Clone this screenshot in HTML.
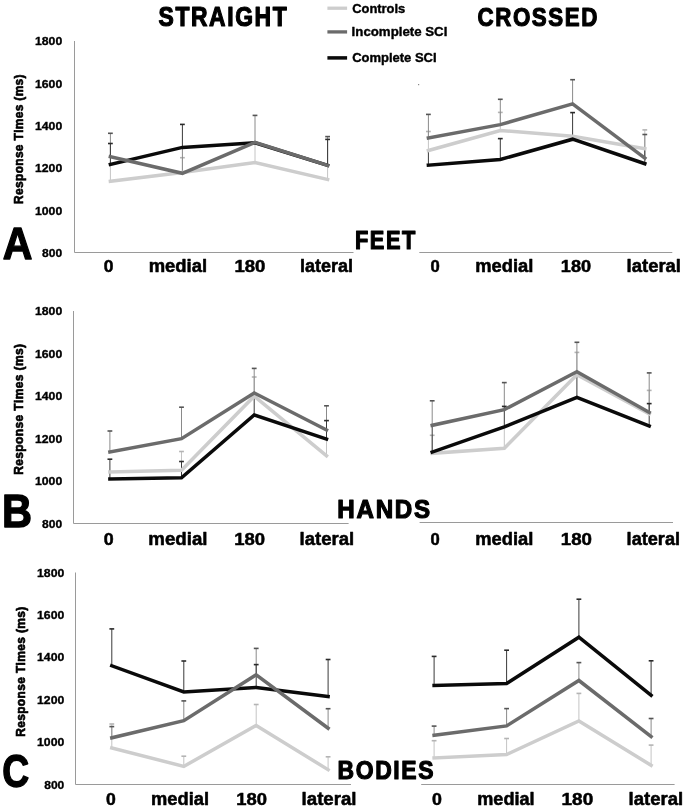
<!DOCTYPE html>
<html><head><meta charset="utf-8"><title>Response Times</title>
<style>
html,body{margin:0;padding:0;background:#fff;}
body{width:685px;height:811px;overflow:hidden;}
svg{display:block;will-change:transform;}
text{font-family:"Liberation Sans",sans-serif;font-weight:bold;font-kerning:none;}
</style></head>
<body>
<svg width="685" height="811" viewBox="0 0 685 811">
<rect width="685" height="811" fill="#fff"/>
<line x1="74.50" y1="41.00" x2="74.50" y2="252.50" stroke="#9a9a9a" stroke-width="1"/>
<line x1="74.50" y1="252.50" x2="353.50" y2="252.50" stroke="#9a9a9a" stroke-width="1"/>
<line x1="419.30" y1="252.50" x2="672.30" y2="252.50" stroke="#9a9a9a" stroke-width="1"/>
<line x1="73.50" y1="311.00" x2="73.50" y2="523.50" stroke="#9a9a9a" stroke-width="1"/>
<line x1="73.50" y1="523.50" x2="348.60" y2="523.50" stroke="#9a9a9a" stroke-width="1"/>
<line x1="419.60" y1="522.50" x2="673.00" y2="522.50" stroke="#9a9a9a" stroke-width="1"/>
<line x1="75.50" y1="572.50" x2="75.50" y2="784.50" stroke="#9a9a9a" stroke-width="1"/>
<line x1="75.50" y1="784.50" x2="351.00" y2="784.50" stroke="#9a9a9a" stroke-width="1"/>
<line x1="421.20" y1="784.50" x2="674.60" y2="784.50" stroke="#9a9a9a" stroke-width="1"/>
<rect x="418" y="84" width="1.2" height="1.2" fill="#888"/>
<line x1="110.40" y1="181.30" x2="110.40" y2="160.00" stroke="#c4c4c4" stroke-width="1.0"/>
<line x1="182.40" y1="172.50" x2="182.40" y2="157.70" stroke="#c4c4c4" stroke-width="1.0"/>
<line x1="180.00" y1="157.70" x2="184.80" y2="157.70" stroke="#b4b4b4" stroke-width="1.6"/>
<line x1="255.00" y1="162.60" x2="255.00" y2="142.00" stroke="#c4c4c4" stroke-width="1.0"/>
<line x1="327.60" y1="179.50" x2="327.60" y2="166.00" stroke="#c4c4c4" stroke-width="1.0"/>
<line x1="110.40" y1="156.70" x2="110.40" y2="133.30" stroke="#8a8a8a" stroke-width="1.0"/>
<line x1="108.00" y1="133.30" x2="112.80" y2="133.30" stroke="#555555" stroke-width="1.6"/>
<line x1="182.40" y1="173.30" x2="182.40" y2="148.00" stroke="#8a8a8a" stroke-width="1.0"/>
<line x1="255.00" y1="142.30" x2="255.00" y2="115.40" stroke="#8a8a8a" stroke-width="1.0"/>
<line x1="252.60" y1="115.40" x2="257.40" y2="115.40" stroke="#555555" stroke-width="1.6"/>
<line x1="327.60" y1="165.40" x2="327.60" y2="136.60" stroke="#8a8a8a" stroke-width="1.0"/>
<line x1="325.20" y1="136.60" x2="330.00" y2="136.60" stroke="#555555" stroke-width="1.6"/>
<line x1="110.40" y1="164.40" x2="110.40" y2="143.50" stroke="#3a3a3a" stroke-width="1.0"/>
<line x1="108.00" y1="143.50" x2="112.80" y2="143.50" stroke="#2a2a2a" stroke-width="1.6"/>
<line x1="182.40" y1="147.40" x2="182.40" y2="124.40" stroke="#3a3a3a" stroke-width="1.0"/>
<line x1="180.00" y1="124.40" x2="184.80" y2="124.40" stroke="#2a2a2a" stroke-width="1.6"/>
<line x1="327.60" y1="165.40" x2="327.60" y2="139.40" stroke="#3a3a3a" stroke-width="1.0"/>
<line x1="325.20" y1="139.40" x2="330.00" y2="139.40" stroke="#2a2a2a" stroke-width="1.6"/>
<polyline points="110.40,181.30 182.40,172.50 255.00,162.60 327.60,179.50" fill="none" stroke="#cdcdcd" stroke-width="3.5" stroke-linejoin="miter" stroke-linecap="square"/>
<polyline points="110.40,164.40 182.40,147.40 255.00,142.80 327.60,165.40" fill="none" stroke="#0a0a0a" stroke-width="3.5" stroke-linejoin="miter" stroke-linecap="square"/>
<polyline points="110.40,156.70 182.40,173.30 255.00,142.30 327.60,165.40" fill="none" stroke="#6b6b6b" stroke-width="3.5" stroke-linejoin="miter" stroke-linecap="square"/>
<line x1="428.40" y1="150.50" x2="428.40" y2="131.50" stroke="#c4c4c4" stroke-width="1.0"/>
<line x1="426.00" y1="131.50" x2="430.80" y2="131.50" stroke="#b4b4b4" stroke-width="1.6"/>
<line x1="500.30" y1="130.50" x2="500.30" y2="112.40" stroke="#c4c4c4" stroke-width="1.0"/>
<line x1="497.90" y1="112.40" x2="502.70" y2="112.40" stroke="#b4b4b4" stroke-width="1.6"/>
<line x1="644.80" y1="148.70" x2="644.80" y2="129.90" stroke="#c4c4c4" stroke-width="1.0"/>
<line x1="642.40" y1="129.90" x2="647.20" y2="129.90" stroke="#b4b4b4" stroke-width="1.6"/>
<line x1="428.40" y1="138.00" x2="428.40" y2="114.40" stroke="#8a8a8a" stroke-width="1.0"/>
<line x1="426.00" y1="114.40" x2="430.80" y2="114.40" stroke="#555555" stroke-width="1.6"/>
<line x1="500.30" y1="124.60" x2="500.30" y2="99.30" stroke="#8a8a8a" stroke-width="1.0"/>
<line x1="497.90" y1="99.30" x2="502.70" y2="99.30" stroke="#555555" stroke-width="1.6"/>
<line x1="572.60" y1="103.80" x2="572.60" y2="79.70" stroke="#8a8a8a" stroke-width="1.0"/>
<line x1="570.20" y1="79.70" x2="575.00" y2="79.70" stroke="#555555" stroke-width="1.6"/>
<line x1="644.80" y1="158.00" x2="644.80" y2="134.50" stroke="#8a8a8a" stroke-width="1.0"/>
<line x1="642.40" y1="134.50" x2="647.20" y2="134.50" stroke="#555555" stroke-width="1.6"/>
<line x1="428.40" y1="165.20" x2="428.40" y2="150.00" stroke="#3a3a3a" stroke-width="1.0"/>
<line x1="500.30" y1="159.50" x2="500.30" y2="138.60" stroke="#3a3a3a" stroke-width="1.0"/>
<line x1="497.90" y1="138.60" x2="502.70" y2="138.60" stroke="#2a2a2a" stroke-width="1.6"/>
<line x1="572.60" y1="139.20" x2="572.60" y2="112.60" stroke="#3a3a3a" stroke-width="1.0"/>
<line x1="570.20" y1="112.60" x2="575.00" y2="112.60" stroke="#2a2a2a" stroke-width="1.6"/>
<line x1="644.80" y1="163.70" x2="644.80" y2="150.00" stroke="#3a3a3a" stroke-width="1.0"/>
<polyline points="428.40,150.50 500.30,130.50 572.60,136.20 644.80,148.70" fill="none" stroke="#cdcdcd" stroke-width="3.5" stroke-linejoin="miter" stroke-linecap="square"/>
<polyline points="428.40,165.20 500.30,159.50 572.60,139.20 644.80,163.70" fill="none" stroke="#0a0a0a" stroke-width="3.5" stroke-linejoin="miter" stroke-linecap="square"/>
<polyline points="428.40,138.00 500.30,124.60 572.60,103.80 644.80,158.00" fill="none" stroke="#6b6b6b" stroke-width="3.5" stroke-linejoin="miter" stroke-linecap="square"/>
<line x1="181.50" y1="470.20" x2="181.50" y2="451.50" stroke="#c4c4c4" stroke-width="1.0"/>
<line x1="179.10" y1="451.50" x2="183.90" y2="451.50" stroke="#b4b4b4" stroke-width="1.6"/>
<line x1="254.20" y1="396.20" x2="254.20" y2="377.00" stroke="#c4c4c4" stroke-width="1.0"/>
<line x1="251.80" y1="377.00" x2="256.60" y2="377.00" stroke="#b4b4b4" stroke-width="1.6"/>
<line x1="326.50" y1="455.80" x2="326.50" y2="440.00" stroke="#c4c4c4" stroke-width="1.0"/>
<line x1="109.90" y1="452.00" x2="109.90" y2="431.00" stroke="#8a8a8a" stroke-width="1.0"/>
<line x1="107.50" y1="431.00" x2="112.30" y2="431.00" stroke="#555555" stroke-width="1.6"/>
<line x1="181.50" y1="438.70" x2="181.50" y2="407.20" stroke="#8a8a8a" stroke-width="1.0"/>
<line x1="179.10" y1="407.20" x2="183.90" y2="407.20" stroke="#555555" stroke-width="1.6"/>
<line x1="254.20" y1="392.90" x2="254.20" y2="368.40" stroke="#8a8a8a" stroke-width="1.0"/>
<line x1="251.80" y1="368.40" x2="256.60" y2="368.40" stroke="#555555" stroke-width="1.6"/>
<line x1="326.50" y1="430.00" x2="326.50" y2="405.80" stroke="#8a8a8a" stroke-width="1.0"/>
<line x1="324.10" y1="405.80" x2="328.90" y2="405.80" stroke="#555555" stroke-width="1.6"/>
<line x1="109.90" y1="479.00" x2="109.90" y2="459.20" stroke="#3a3a3a" stroke-width="1.0"/>
<line x1="107.50" y1="459.20" x2="112.30" y2="459.20" stroke="#2a2a2a" stroke-width="1.6"/>
<line x1="181.50" y1="477.80" x2="181.50" y2="461.50" stroke="#3a3a3a" stroke-width="1.0"/>
<line x1="179.10" y1="461.50" x2="183.90" y2="461.50" stroke="#2a2a2a" stroke-width="1.6"/>
<line x1="254.20" y1="414.90" x2="254.20" y2="396.00" stroke="#3a3a3a" stroke-width="1.0"/>
<line x1="326.50" y1="439.10" x2="326.50" y2="420.60" stroke="#3a3a3a" stroke-width="1.0"/>
<line x1="324.10" y1="420.60" x2="328.90" y2="420.60" stroke="#2a2a2a" stroke-width="1.6"/>
<polyline points="109.90,472.00 181.50,470.20 254.20,396.20 326.50,455.80" fill="none" stroke="#cdcdcd" stroke-width="3.5" stroke-linejoin="miter" stroke-linecap="square"/>
<polyline points="109.90,479.00 181.50,477.80 254.20,414.90 326.50,439.10" fill="none" stroke="#0a0a0a" stroke-width="3.5" stroke-linejoin="miter" stroke-linecap="square"/>
<polyline points="109.90,452.00 181.50,438.70 254.20,392.90 326.50,430.00" fill="none" stroke="#6b6b6b" stroke-width="3.5" stroke-linejoin="miter" stroke-linecap="square"/>
<line x1="432.20" y1="453.30" x2="432.20" y2="435.30" stroke="#c4c4c4" stroke-width="1.0"/>
<line x1="429.80" y1="435.30" x2="434.60" y2="435.30" stroke="#b4b4b4" stroke-width="1.6"/>
<line x1="504.30" y1="448.30" x2="504.30" y2="427.00" stroke="#c4c4c4" stroke-width="1.0"/>
<line x1="576.90" y1="374.70" x2="576.90" y2="352.40" stroke="#c4c4c4" stroke-width="1.0"/>
<line x1="574.50" y1="352.40" x2="579.30" y2="352.40" stroke="#b4b4b4" stroke-width="1.6"/>
<line x1="649.20" y1="413.80" x2="649.20" y2="390.40" stroke="#c4c4c4" stroke-width="1.0"/>
<line x1="646.80" y1="390.40" x2="651.60" y2="390.40" stroke="#b4b4b4" stroke-width="1.6"/>
<line x1="432.20" y1="425.30" x2="432.20" y2="400.80" stroke="#8a8a8a" stroke-width="1.0"/>
<line x1="429.80" y1="400.80" x2="434.60" y2="400.80" stroke="#555555" stroke-width="1.6"/>
<line x1="504.30" y1="409.60" x2="504.30" y2="382.60" stroke="#8a8a8a" stroke-width="1.0"/>
<line x1="501.90" y1="382.60" x2="506.70" y2="382.60" stroke="#555555" stroke-width="1.6"/>
<line x1="576.90" y1="371.70" x2="576.90" y2="342.30" stroke="#8a8a8a" stroke-width="1.0"/>
<line x1="574.50" y1="342.30" x2="579.30" y2="342.30" stroke="#555555" stroke-width="1.6"/>
<line x1="649.20" y1="412.30" x2="649.20" y2="372.90" stroke="#8a8a8a" stroke-width="1.0"/>
<line x1="646.80" y1="372.90" x2="651.60" y2="372.90" stroke="#555555" stroke-width="1.6"/>
<line x1="432.20" y1="452.10" x2="432.20" y2="425.30" stroke="#3a3a3a" stroke-width="1.0"/>
<line x1="504.30" y1="426.90" x2="504.30" y2="406.40" stroke="#3a3a3a" stroke-width="1.0"/>
<line x1="501.90" y1="406.40" x2="506.70" y2="406.40" stroke="#2a2a2a" stroke-width="1.6"/>
<line x1="576.90" y1="397.40" x2="576.90" y2="372.00" stroke="#3a3a3a" stroke-width="1.0"/>
<line x1="649.20" y1="426.00" x2="649.20" y2="403.60" stroke="#3a3a3a" stroke-width="1.0"/>
<line x1="646.80" y1="403.60" x2="651.60" y2="403.60" stroke="#2a2a2a" stroke-width="1.6"/>
<polyline points="432.20,453.30 504.30,448.30 576.90,374.70 649.20,413.80" fill="none" stroke="#cdcdcd" stroke-width="3.5" stroke-linejoin="miter" stroke-linecap="square"/>
<polyline points="432.20,452.10 504.30,426.90 576.90,397.40 649.20,426.00" fill="none" stroke="#0a0a0a" stroke-width="3.5" stroke-linejoin="miter" stroke-linecap="square"/>
<polyline points="432.20,425.30 504.30,409.60 576.90,371.70 649.20,412.30" fill="none" stroke="#6b6b6b" stroke-width="3.5" stroke-linejoin="miter" stroke-linecap="square"/>
<line x1="111.80" y1="747.90" x2="111.80" y2="724.00" stroke="#c4c4c4" stroke-width="1.0"/>
<line x1="109.40" y1="724.00" x2="114.20" y2="724.00" stroke="#b4b4b4" stroke-width="1.6"/>
<line x1="183.80" y1="766.40" x2="183.80" y2="756.20" stroke="#c4c4c4" stroke-width="1.0"/>
<line x1="181.40" y1="756.20" x2="186.20" y2="756.20" stroke="#b4b4b4" stroke-width="1.6"/>
<line x1="256.20" y1="725.50" x2="256.20" y2="704.50" stroke="#c4c4c4" stroke-width="1.0"/>
<line x1="253.80" y1="704.50" x2="258.60" y2="704.50" stroke="#b4b4b4" stroke-width="1.6"/>
<line x1="328.10" y1="769.70" x2="328.10" y2="756.80" stroke="#c4c4c4" stroke-width="1.0"/>
<line x1="325.70" y1="756.80" x2="330.50" y2="756.80" stroke="#b4b4b4" stroke-width="1.6"/>
<line x1="111.80" y1="737.80" x2="111.80" y2="726.60" stroke="#8a8a8a" stroke-width="1.0"/>
<line x1="109.40" y1="726.60" x2="114.20" y2="726.60" stroke="#555555" stroke-width="1.6"/>
<line x1="183.80" y1="720.70" x2="183.80" y2="700.90" stroke="#8a8a8a" stroke-width="1.0"/>
<line x1="181.40" y1="700.90" x2="186.20" y2="700.90" stroke="#555555" stroke-width="1.6"/>
<line x1="256.20" y1="674.80" x2="256.20" y2="648.40" stroke="#8a8a8a" stroke-width="1.0"/>
<line x1="253.80" y1="648.40" x2="258.60" y2="648.40" stroke="#555555" stroke-width="1.6"/>
<line x1="328.10" y1="728.20" x2="328.10" y2="708.70" stroke="#8a8a8a" stroke-width="1.0"/>
<line x1="325.70" y1="708.70" x2="330.50" y2="708.70" stroke="#555555" stroke-width="1.6"/>
<line x1="111.80" y1="665.80" x2="111.80" y2="628.90" stroke="#3a3a3a" stroke-width="1.0"/>
<line x1="109.40" y1="628.90" x2="114.20" y2="628.90" stroke="#2a2a2a" stroke-width="1.6"/>
<line x1="183.80" y1="692.00" x2="183.80" y2="661.00" stroke="#3a3a3a" stroke-width="1.0"/>
<line x1="181.40" y1="661.00" x2="186.20" y2="661.00" stroke="#2a2a2a" stroke-width="1.6"/>
<line x1="256.20" y1="687.40" x2="256.20" y2="664.60" stroke="#3a3a3a" stroke-width="1.0"/>
<line x1="253.80" y1="664.60" x2="258.60" y2="664.60" stroke="#2a2a2a" stroke-width="1.6"/>
<line x1="328.10" y1="696.50" x2="328.10" y2="659.50" stroke="#3a3a3a" stroke-width="1.0"/>
<line x1="325.70" y1="659.50" x2="330.50" y2="659.50" stroke="#2a2a2a" stroke-width="1.6"/>
<polyline points="111.80,747.90 183.80,766.40 256.20,725.50 328.10,769.70" fill="none" stroke="#cdcdcd" stroke-width="3.5" stroke-linejoin="miter" stroke-linecap="square"/>
<polyline points="111.80,665.80 183.80,692.00 256.20,687.40 328.10,696.50" fill="none" stroke="#0a0a0a" stroke-width="3.5" stroke-linejoin="miter" stroke-linecap="square"/>
<polyline points="111.80,737.80 183.80,720.70 256.20,674.80 328.10,728.20" fill="none" stroke="#6b6b6b" stroke-width="3.5" stroke-linejoin="miter" stroke-linecap="square"/>
<line x1="434.10" y1="757.90" x2="434.10" y2="740.70" stroke="#c4c4c4" stroke-width="1.0"/>
<line x1="431.70" y1="740.70" x2="436.50" y2="740.70" stroke="#b4b4b4" stroke-width="1.6"/>
<line x1="506.60" y1="754.50" x2="506.60" y2="738.50" stroke="#c4c4c4" stroke-width="1.0"/>
<line x1="504.20" y1="738.50" x2="509.00" y2="738.50" stroke="#b4b4b4" stroke-width="1.6"/>
<line x1="578.90" y1="721.00" x2="578.90" y2="693.40" stroke="#c4c4c4" stroke-width="1.0"/>
<line x1="576.50" y1="693.40" x2="581.30" y2="693.40" stroke="#b4b4b4" stroke-width="1.6"/>
<line x1="651.10" y1="765.30" x2="651.10" y2="745.10" stroke="#c4c4c4" stroke-width="1.0"/>
<line x1="648.70" y1="745.10" x2="653.50" y2="745.10" stroke="#b4b4b4" stroke-width="1.6"/>
<line x1="434.10" y1="735.20" x2="434.10" y2="726.10" stroke="#8a8a8a" stroke-width="1.0"/>
<line x1="431.70" y1="726.10" x2="436.50" y2="726.10" stroke="#555555" stroke-width="1.6"/>
<line x1="506.60" y1="725.90" x2="506.60" y2="708.60" stroke="#8a8a8a" stroke-width="1.0"/>
<line x1="504.20" y1="708.60" x2="509.00" y2="708.60" stroke="#555555" stroke-width="1.6"/>
<line x1="578.90" y1="680.50" x2="578.90" y2="662.60" stroke="#8a8a8a" stroke-width="1.0"/>
<line x1="576.50" y1="662.60" x2="581.30" y2="662.60" stroke="#555555" stroke-width="1.6"/>
<line x1="651.10" y1="736.50" x2="651.10" y2="718.50" stroke="#8a8a8a" stroke-width="1.0"/>
<line x1="648.70" y1="718.50" x2="653.50" y2="718.50" stroke="#555555" stroke-width="1.6"/>
<line x1="434.10" y1="685.50" x2="434.10" y2="656.40" stroke="#3a3a3a" stroke-width="1.0"/>
<line x1="431.70" y1="656.40" x2="436.50" y2="656.40" stroke="#2a2a2a" stroke-width="1.6"/>
<line x1="506.60" y1="683.50" x2="506.60" y2="650.20" stroke="#3a3a3a" stroke-width="1.0"/>
<line x1="504.20" y1="650.20" x2="509.00" y2="650.20" stroke="#2a2a2a" stroke-width="1.6"/>
<line x1="578.90" y1="637.20" x2="578.90" y2="599.20" stroke="#3a3a3a" stroke-width="1.0"/>
<line x1="576.50" y1="599.20" x2="581.30" y2="599.20" stroke="#2a2a2a" stroke-width="1.6"/>
<line x1="651.10" y1="695.30" x2="651.10" y2="660.80" stroke="#3a3a3a" stroke-width="1.0"/>
<line x1="648.70" y1="660.80" x2="653.50" y2="660.80" stroke="#2a2a2a" stroke-width="1.6"/>
<polyline points="434.10,757.90 506.60,754.50 578.90,721.00 651.10,765.30" fill="none" stroke="#cdcdcd" stroke-width="3.5" stroke-linejoin="miter" stroke-linecap="square"/>
<polyline points="434.10,685.50 506.60,683.50 578.90,637.20 651.10,695.30" fill="none" stroke="#0a0a0a" stroke-width="3.5" stroke-linejoin="miter" stroke-linecap="square"/>
<polyline points="434.10,735.20 506.60,725.90 578.90,680.50 651.10,736.50" fill="none" stroke="#6b6b6b" stroke-width="3.5" stroke-linejoin="miter" stroke-linecap="square"/>
<text transform="translate(34.91,45.12) scale(1.0517,1)" font-size="11.67" fill="#000" stroke="#000" stroke-width="0.350" stroke-linejoin="round">1800</text>
<text transform="translate(34.91,87.52) scale(1.0517,1)" font-size="11.67" fill="#000" stroke="#000" stroke-width="0.350" stroke-linejoin="round">1600</text>
<text transform="translate(34.91,129.92) scale(1.0517,1)" font-size="11.67" fill="#000" stroke="#000" stroke-width="0.350" stroke-linejoin="round">1400</text>
<text transform="translate(34.91,172.32) scale(1.0517,1)" font-size="11.67" fill="#000" stroke="#000" stroke-width="0.350" stroke-linejoin="round">1200</text>
<text transform="translate(34.91,214.72) scale(1.0517,1)" font-size="11.67" fill="#000" stroke="#000" stroke-width="0.350" stroke-linejoin="round">1000</text>
<text transform="translate(42.10,257.12) scale(1.0329,1)" font-size="11.67" fill="#000" stroke="#000" stroke-width="0.350" stroke-linejoin="round">800</text>
<text transform="translate(34.91,315.32) scale(1.0517,1)" font-size="11.67" fill="#000" stroke="#000" stroke-width="0.350" stroke-linejoin="round">1800</text>
<text transform="translate(34.91,357.76) scale(1.0517,1)" font-size="11.67" fill="#000" stroke="#000" stroke-width="0.350" stroke-linejoin="round">1600</text>
<text transform="translate(34.91,400.20) scale(1.0517,1)" font-size="11.67" fill="#000" stroke="#000" stroke-width="0.350" stroke-linejoin="round">1400</text>
<text transform="translate(34.91,442.64) scale(1.0517,1)" font-size="11.67" fill="#000" stroke="#000" stroke-width="0.350" stroke-linejoin="round">1200</text>
<text transform="translate(34.91,485.08) scale(1.0517,1)" font-size="11.67" fill="#000" stroke="#000" stroke-width="0.350" stroke-linejoin="round">1000</text>
<text transform="translate(42.10,527.52) scale(1.0329,1)" font-size="11.67" fill="#000" stroke="#000" stroke-width="0.350" stroke-linejoin="round">800</text>
<text transform="translate(37.01,576.52) scale(1.0517,1)" font-size="11.67" fill="#000" stroke="#000" stroke-width="0.350" stroke-linejoin="round">1800</text>
<text transform="translate(37.01,618.96) scale(1.0517,1)" font-size="11.67" fill="#000" stroke="#000" stroke-width="0.350" stroke-linejoin="round">1600</text>
<text transform="translate(37.01,661.40) scale(1.0517,1)" font-size="11.67" fill="#000" stroke="#000" stroke-width="0.350" stroke-linejoin="round">1400</text>
<text transform="translate(37.01,703.84) scale(1.0517,1)" font-size="11.67" fill="#000" stroke="#000" stroke-width="0.350" stroke-linejoin="round">1200</text>
<text transform="translate(37.01,746.28) scale(1.0517,1)" font-size="11.67" fill="#000" stroke="#000" stroke-width="0.350" stroke-linejoin="round">1000</text>
<text transform="translate(44.20,788.72) scale(1.0329,1)" font-size="11.67" fill="#000" stroke="#000" stroke-width="0.350" stroke-linejoin="round">800</text>
<text transform="translate(23.49,203.90) rotate(-90) scale(0.9715,1)" font-size="12.26" fill="#000" stroke="#000" stroke-width="0.613" stroke-linejoin="round" letter-spacing="0.368">Response Times (ms)</text>
<text transform="translate(22.68,474.80) rotate(-90) scale(0.9417,1)" font-size="12.78" fill="#000" stroke="#000" stroke-width="0.639" stroke-linejoin="round" letter-spacing="0.383">Response Times (ms)</text>
<text transform="translate(24.68,736.80) rotate(-90) scale(0.9462,1)" font-size="12.65" fill="#000" stroke="#000" stroke-width="0.633" stroke-linejoin="round" letter-spacing="0.380">Response Times (ms)</text>
<text transform="translate(103.67,272.25) scale(1.0476,1)" font-size="16.62" fill="#000" stroke="#000" stroke-width="0.498" stroke-linejoin="round">0</text>
<text transform="translate(148.66,272.23) scale(1.0317,1)" font-size="17.89" fill="#000" stroke="#000" stroke-width="0.537" stroke-linejoin="round">medial</text>
<text transform="translate(234.41,272.25) scale(1.1173,1)" font-size="16.62" fill="#000" stroke="#000" stroke-width="0.498" stroke-linejoin="round">180</text>
<text transform="translate(299.91,272.23) scale(1.0073,1)" font-size="17.89" fill="#000" stroke="#000" stroke-width="0.537" stroke-linejoin="round">lateral</text>
<text transform="translate(430.49,272.25) scale(0.9999,1)" font-size="16.62" fill="#000" stroke="#000" stroke-width="0.498" stroke-linejoin="round">0</text>
<text transform="translate(475.27,272.23) scale(1.0262,1)" font-size="17.89" fill="#000" stroke="#000" stroke-width="0.537" stroke-linejoin="round">medial</text>
<text transform="translate(560.83,272.25) scale(1.0909,1)" font-size="16.62" fill="#000" stroke="#000" stroke-width="0.498" stroke-linejoin="round">180</text>
<text transform="translate(626.59,272.23) scale(1.0329,1)" font-size="17.89" fill="#000" stroke="#000" stroke-width="0.537" stroke-linejoin="round">lateral</text>
<text transform="translate(103.86,544.95) scale(1.0539,1)" font-size="16.89" fill="#000" stroke="#000" stroke-width="0.507" stroke-linejoin="round">0</text>
<text transform="translate(148.35,544.93) scale(1.0292,1)" font-size="18.16" fill="#000" stroke="#000" stroke-width="0.545" stroke-linejoin="round">medial</text>
<text transform="translate(234.21,544.95) scale(1.0954,1)" font-size="16.89" fill="#000" stroke="#000" stroke-width="0.507" stroke-linejoin="round">180</text>
<text transform="translate(299.48,544.93) scale(1.0237,1)" font-size="18.16" fill="#000" stroke="#000" stroke-width="0.545" stroke-linejoin="round">lateral</text>
<text transform="translate(430.49,545.14) scale(0.9679,1)" font-size="17.16" fill="#000" stroke="#000" stroke-width="0.515" stroke-linejoin="round">0</text>
<text transform="translate(475.27,545.12) scale(0.9967,1)" font-size="18.42" fill="#000" stroke="#000" stroke-width="0.553" stroke-linejoin="round">medial</text>
<text transform="translate(560.80,545.14) scale(1.0889,1)" font-size="17.16" fill="#000" stroke="#000" stroke-width="0.515" stroke-linejoin="round">180</text>
<text transform="translate(626.61,545.12) scale(0.9840,1)" font-size="18.42" fill="#000" stroke="#000" stroke-width="0.553" stroke-linejoin="round">lateral</text>
<text transform="translate(105.97,804.95) scale(1.0683,1)" font-size="16.48" fill="#000" stroke="#000" stroke-width="0.494" stroke-linejoin="round">0</text>
<text transform="translate(151.07,804.93) scale(1.0302,1)" font-size="17.76" fill="#000" stroke="#000" stroke-width="0.533" stroke-linejoin="round">medial</text>
<text transform="translate(236.32,804.95) scale(1.1190,1)" font-size="16.48" fill="#000" stroke="#000" stroke-width="0.494" stroke-linejoin="round">180</text>
<text transform="translate(301.58,804.93) scale(1.0506,1)" font-size="17.76" fill="#000" stroke="#000" stroke-width="0.533" stroke-linejoin="round">lateral</text>
<text transform="translate(432.06,805.15) scale(1.0803,1)" font-size="16.48" fill="#000" stroke="#000" stroke-width="0.494" stroke-linejoin="round">0</text>
<text transform="translate(477.28,805.13) scale(1.0191,1)" font-size="17.76" fill="#000" stroke="#000" stroke-width="0.533" stroke-linejoin="round">medial</text>
<text transform="translate(561.59,805.15) scale(1.1494,1)" font-size="16.48" fill="#000" stroke="#000" stroke-width="0.494" stroke-linejoin="round">180</text>
<text transform="translate(628.48,805.13) scale(1.0446,1)" font-size="17.76" fill="#000" stroke="#000" stroke-width="0.533" stroke-linejoin="round">lateral</text>
<text transform="translate(158.56,26.19) scale(0.8462,1)" font-size="27.04" fill="#000" stroke="#000" stroke-width="1.217" stroke-linejoin="round" letter-spacing="1.893">STRAIGHT</text>
<text transform="translate(477.59,25.62) scale(0.8647,1)" font-size="25.83" fill="#000" stroke="#000" stroke-width="1.162" stroke-linejoin="round" letter-spacing="1.808">CROSSED</text>
<text transform="translate(355.03,249.41) scale(0.8282,1)" font-size="26.33" fill="#000" stroke="#000" stroke-width="1.185" stroke-linejoin="round" letter-spacing="1.843">FEET</text>
<text transform="translate(337.33,517.62) scale(0.9472,1)" font-size="25.56" fill="#000" stroke="#000" stroke-width="1.150" stroke-linejoin="round" letter-spacing="1.789">HANDS</text>
<text transform="translate(337.58,778.83) scale(0.9023,1)" font-size="25.43" fill="#000" stroke="#000" stroke-width="1.144" stroke-linejoin="round" letter-spacing="1.780">BODIES</text>
<text transform="translate(2.79,259.02) scale(0.9106,1)" font-size="45.13" fill="#000" stroke="#000" stroke-width="1.354" stroke-linejoin="round">A</text>
<text transform="translate(1.94,526.62) scale(0.9128,1)" font-size="45.54" fill="#000" stroke="#000" stroke-width="1.366" stroke-linejoin="round">B</text>
<text transform="translate(2.13,786.61) scale(0.8155,1)" font-size="45.73" fill="#000" stroke="#000" stroke-width="1.372" stroke-linejoin="round">C</text>
<line x1="327.40" y1="8.20" x2="347.10" y2="8.20" stroke="#cdcdcd" stroke-width="3.3"/>
<line x1="327.40" y1="31.90" x2="347.10" y2="31.90" stroke="#6b6b6b" stroke-width="3.3"/>
<line x1="327.40" y1="57.90" x2="347.10" y2="57.90" stroke="#0a0a0a" stroke-width="3.5"/>
<text transform="translate(352.16,12.91) scale(1.0274,1)" font-size="12.59" fill="#000" stroke="#000" stroke-width="0.378" stroke-linejoin="round">Controls</text>
<text transform="translate(351.61,36.11) scale(1.0644,1)" font-size="12.46" fill="#000" stroke="#000" stroke-width="0.374" stroke-linejoin="round">Incomplete SCI</text>
<text transform="translate(352.16,62.11) scale(1.0113,1)" font-size="12.85" fill="#000" stroke="#000" stroke-width="0.386" stroke-linejoin="round">Complete SCI</text>
</svg>
</body></html>
